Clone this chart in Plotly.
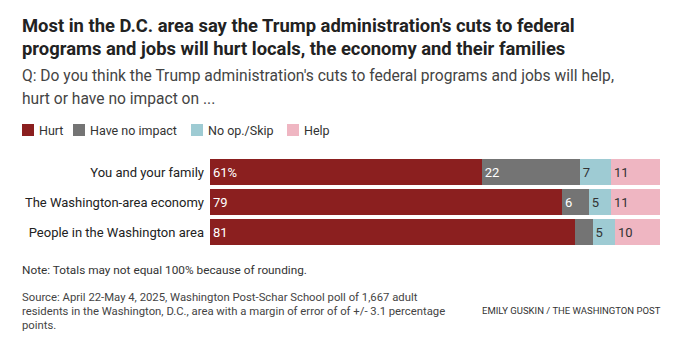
import plotly.graph_objects as go

categories = ["You and your family", "The Washington-area economy", "People in the Washington area"]
series_names = ["Hurt", "Have no impact", "No op./Skip", "Help"]
hurt = [61, 79, 81]
no_impact = [22, 6, 4]
no_op = [7, 5, 5]
help_ = [11, 11, 10]
hurt_labels = ["61%", "79", "81"]
colors = ["#8b1f1f", "#747474", "#9ecbd3", "#efb6c2"]
text_colors = ["#ffffff", "#ffffff", "#333333", "#333333"]

FONT = "Liberation Sans Narrow, Roboto, Arial, sans-serif"

W, H = 686, 345
L, R, T, B = 210, 26, 157, 98
PW, PH = W - L - R, H - T - B

values = [hurt, no_impact, no_op, help_]
fig = go.Figure()
for i, (name, vals) in enumerate(zip(series_names, values)):
    if i == 0:
        txt = hurt_labels
    else:
        txt = [str(v) if v >= 5 else "" for v in vals]
    fig.add_trace(go.Bar(
        y=categories, x=vals, name=name, orientation="h",
        marker=dict(color=colors[i], line=dict(width=0)),
        text=txt, textposition="inside", insidetextanchor="start",
        textfont=dict(color=text_colors[i], size=13, family=FONT),
        textangle=0, constraintext="none", showlegend=False, hoverinfo="skip",
    ))

fig.update_layout(
    width=W, height=H,
    barmode="stack", barnorm="percent", bargap=0.12,
    margin=dict(l=L, r=R, t=T, b=B),
    paper_bgcolor="white", plot_bgcolor="white",
    font=dict(family=FONT, color="#333333"),
    xaxis=dict(visible=False, range=[0, 100], fixedrange=True),
    yaxis=dict(autorange="reversed", showgrid=False, showline=False, zeroline=False,
               ticks="", ticklabelstandoff=5, tickfont=dict(size=13, color="#222222", family=FONT)),
)

def px(x): return (x - L) / PW
def py(y): return 1 - (y - T) / PH

annotations = []
shapes = []

def text_line(text, x, y, size, color, anchor="left", bold=False):
    annotations.append(dict(
        text=("<b>%s</b>" % text) if bold else text,
        x=px(x), y=py(y), xref="paper", yref="paper", xanchor=anchor, yanchor="middle",
        align=anchor, showarrow=False, font=dict(size=size, color=color, family=FONT)))

text_line("Most in the D.C. area say the Trump administration's cuts to federal", 20, 25, 18.4, "#222222", bold=True)
text_line("programs and jobs will hurt locals, the economy and their families", 20, 49, 18.4, "#222222", bold=True)
text_line("Q: Do you think the Trump administration's cuts to federal programs and jobs will help,", 20, 76, 15.6, "#444444")
text_line("hurt or have no impact on ...", 20, 99, 15.6, "#444444")

leg_x = [22, 73, 191, 287]
for name, c, lx in zip(series_names, colors, leg_x):
    shapes.append(dict(type="rect", xref="paper", yref="paper",
                       x0=px(lx), x1=px(lx + 12), y0=py(136), y1=py(124),
                       fillcolor=c, line=dict(width=0)))
    text_line(name, lx + 15, 130, 12.5, "#333333")

text_line("Note: Totals may not equal 100% because of rounding.", 20, 270, 11.8, "#333333")
text_line("Source: April 22-May 4, 2025, Washington Post-Schar School poll of 1,667 adult", 20, 297, 11.3, "#444444")
text_line("residents in the Washington, D.C., area with a margin of error of of +/- 3.1 percentage", 20, 311, 11.3, "#444444")
text_line("points.", 20, 325, 11.3, "#444444")
text_line("EMILY GUSKIN / THE WASHINGTON POST", 663, 310, 9.5, "#333333", anchor="right")

fig.update_layout(annotations=annotations, shapes=shapes)
fig.write_html("out.html")
